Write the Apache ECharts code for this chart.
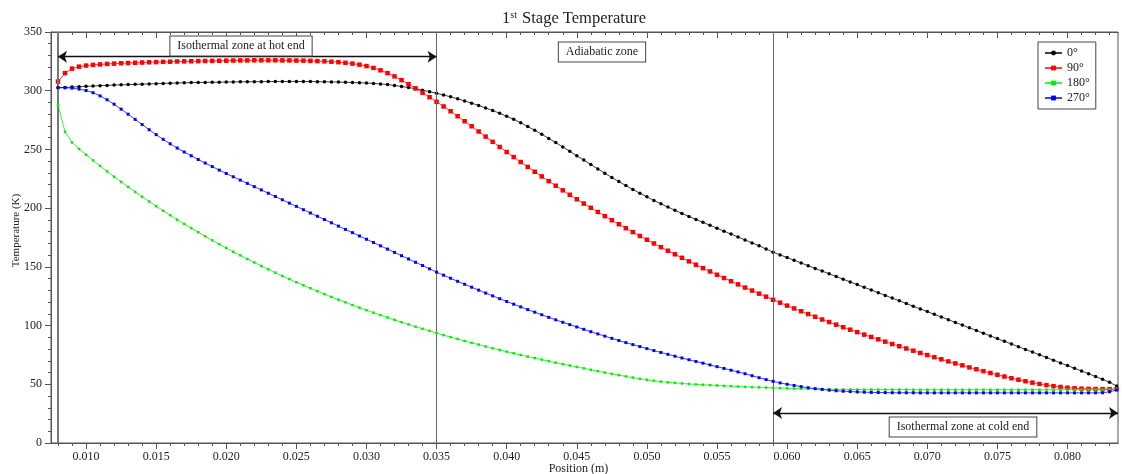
<!DOCTYPE html>
<html>
<head>
<meta charset="utf-8">
<title>1st Stage Temperature</title>
<script src="https://cdn.jsdelivr.net/npm/echarts@6/dist/echarts.min.js"></script>
<style>
    html, body { margin: 0; padding: 0; background: #fff; }
    #chart { width: 1122px; height: 474px; }
</style>
</head>
<body>
<div id="chart"></div>
<script>
// position along the regenerator (m)
const positions = [
    0.0080, 0.0085, 0.0090, 0.0095, 0.0100, 0.0105, 0.0110, 0.0115, 0.0120, 0.0125,
    0.0130, 0.0135, 0.0140, 0.0145, 0.0150, 0.0155, 0.0160, 0.0165, 0.0170, 0.0175,
    0.0180, 0.0185, 0.0190, 0.0195, 0.0200, 0.0205, 0.0210, 0.0215, 0.0220, 0.0225,
    0.0230, 0.0235, 0.0240, 0.0245, 0.0250, 0.0255, 0.0260, 0.0265, 0.0270, 0.0275,
    0.0280, 0.0285, 0.0290, 0.0295, 0.0300, 0.0305, 0.0310, 0.0315, 0.0320, 0.0325,
    0.0330, 0.0335, 0.0340, 0.0345, 0.0350, 0.0355, 0.0360, 0.0365, 0.0370, 0.0375,
    0.0380, 0.0385, 0.0390, 0.0395, 0.0400, 0.0405, 0.0410, 0.0415, 0.0420, 0.0425,
    0.0430, 0.0435, 0.0440, 0.0445, 0.0450, 0.0455, 0.0460, 0.0465, 0.0470, 0.0475,
    0.0480, 0.0485, 0.0490, 0.0495, 0.0500, 0.0505, 0.0510, 0.0515, 0.0520, 0.0525,
    0.0530, 0.0535, 0.0540, 0.0545, 0.0550, 0.0555, 0.0560, 0.0565, 0.0570, 0.0575,
    0.0580, 0.0585, 0.0590, 0.0595, 0.0600, 0.0605, 0.0610, 0.0615, 0.0620, 0.0625,
    0.0630, 0.0635, 0.0640, 0.0645, 0.0650, 0.0655, 0.0660, 0.0665, 0.0670, 0.0675,
    0.0680, 0.0685, 0.0690, 0.0695, 0.0700, 0.0705, 0.0710, 0.0715, 0.0720, 0.0725,
    0.0730, 0.0735, 0.0740, 0.0745, 0.0750, 0.0755, 0.0760, 0.0765, 0.0770, 0.0775,
    0.0780, 0.0785, 0.0790, 0.0795, 0.0800, 0.0805, 0.0810, 0.0815, 0.0820, 0.0825,
    0.0830, 0.0835,
];

// temperature (K) at 0°
const temp0 = [
    302.5, 302.8, 303.1, 303.4, 303.7, 304.0, 304.3, 304.5, 304.8, 305.0,
    305.2, 305.4, 305.6, 305.8, 306.0, 306.2, 306.4, 306.6, 306.7, 306.9,
    307.0, 307.1, 307.2, 307.3, 307.4, 307.5, 307.6, 307.6, 307.7, 307.7,
    307.8, 307.8, 307.8, 307.9, 307.9, 307.8, 307.8, 307.7, 307.6, 307.5,
    307.4, 307.2, 307.0, 306.8, 306.5, 306.2, 305.8, 305.2, 304.5, 303.6,
    302.7, 301.7, 300.5, 299.2, 297.8, 296.3, 294.8, 293.1, 291.3, 289.4,
    287.4, 285.3, 283.1, 280.8, 278.3, 275.6, 272.7, 269.6, 266.3, 262.9,
    259.4, 255.8, 252.1, 248.4, 244.6, 240.9, 237.1, 233.4, 229.7, 226.1,
    222.6, 219.2, 215.9, 212.7, 209.6, 206.6, 203.7, 200.9, 198.2, 195.5,
    192.9, 190.4, 187.9, 185.4, 182.9, 180.4, 177.9, 175.4, 172.9, 170.4,
    167.9, 165.2, 162.5, 160.2, 157.9, 155.6, 153.3, 151.0, 148.7, 146.4,
    144.1, 141.8, 139.5, 137.2, 134.9, 132.6, 130.3, 128.0, 125.7, 123.4,
    121.1, 118.8, 116.5, 114.2, 111.9, 109.6, 107.3, 105.0, 102.7, 100.4,
    98.1, 95.8, 93.5, 91.2, 88.9, 86.6, 84.3, 82.0, 79.7, 77.4,
    75.1, 72.8, 70.5, 68.2, 65.9, 63.6, 61.3, 59.0, 56.6, 54.2,
    51.7, 48.5,
];

// temperature (K) at 90°
const temp90 = [
    307.8, 315.0, 318.8, 320.5, 321.4, 322.0, 322.4, 322.8, 323.1, 323.4,
    323.6, 323.8, 324.0, 324.2, 324.4, 324.6, 324.7, 324.9, 325.0, 325.1,
    325.2, 325.3, 325.4, 325.5, 325.6, 325.7, 325.8, 325.8, 325.9, 325.9,
    325.9, 325.9, 325.8, 325.8, 325.7, 325.6, 325.4, 325.2, 325.0, 324.7,
    324.3, 323.8, 323.1, 322.2, 321.0, 319.4, 317.4, 315.0, 312.2, 309.0,
    305.6, 302.0, 298.3, 294.5, 290.6, 286.6, 282.5, 278.3, 274.0, 269.7,
    265.3, 260.9, 256.5, 252.1, 247.8, 243.5, 239.3, 235.1, 231.0, 227.0,
    223.0, 219.1, 215.2, 211.4, 207.6, 203.9, 200.3, 196.7, 193.2, 189.7,
    186.3, 182.9, 179.6, 176.3, 173.1, 169.9, 166.8, 163.7, 160.7, 157.7,
    154.7, 151.8, 148.9, 146.1, 143.3, 140.5, 137.8, 135.1, 132.4, 129.8,
    127.2, 124.6, 122.0, 119.5, 117.0, 114.6, 112.2, 109.8, 107.5, 105.2,
    103.0, 100.8, 98.6, 96.5, 94.4, 92.3, 90.3, 88.3, 86.3, 84.3,
    82.4, 80.5, 78.6, 76.7, 74.9, 73.1, 71.3, 69.5, 67.8, 66.1,
    64.4, 62.8, 61.2, 59.6, 58.1, 56.6, 55.2, 53.9, 52.6, 51.4,
    50.3, 49.3, 48.4, 47.7, 47.1, 46.6, 46.3, 46.1, 46.0, 45.9,
    45.9, 45.9,
];

// temperature (K) at 180°
const temp180 = [
    288.0, 265.0, 256.0, 250.5, 245.5, 240.7, 236.0, 231.3, 226.8, 222.4,
    218.1, 213.9, 209.7, 205.7, 201.7, 197.8, 194.0, 190.2, 186.6, 183.0,
    179.5, 176.0, 172.6, 169.3, 166.1, 162.9, 159.8, 156.7, 153.7, 150.8,
    147.9, 145.1, 142.3, 139.6, 136.9, 134.3, 131.8, 129.3, 126.8, 124.4,
    122.1, 119.8, 117.5, 115.3, 113.1, 111.0, 108.9, 106.9, 104.9, 102.9,
    101.0, 99.1, 97.3, 95.5, 93.7, 91.9, 90.2, 88.6, 86.9, 85.3,
    83.8, 82.2, 80.7, 79.2, 77.8, 76.4, 75.0, 73.6, 72.3, 71.0,
    69.7, 68.4, 67.2, 66.0, 64.8, 63.6, 62.4, 61.2, 60.0, 58.9,
    57.8, 56.7, 55.7, 54.7, 53.8, 53.0, 52.3, 51.7, 51.2, 50.7,
    50.3, 49.9, 49.6, 49.3, 49.0, 48.7, 48.4, 48.1, 47.8, 47.6,
    47.4, 47.2, 47.0, 46.8, 46.6, 46.4, 46.3, 46.1, 46.0, 45.9,
    45.8, 45.7, 45.6, 45.6, 45.5, 45.5, 45.5, 45.5, 45.5, 45.5,
    45.5, 45.5, 45.4, 45.4, 45.4, 45.4, 45.4, 45.4, 45.4, 45.4,
    45.4, 45.4, 45.4, 45.4, 45.4, 45.4, 45.4, 45.4, 45.4, 45.4,
    45.4, 45.4, 45.4, 45.4, 45.4, 45.4, 45.4, 45.4, 45.5, 45.5,
    45.6, 45.9,
];

// temperature (K) at 270°
const temp270 = [
    302.6, 302.5, 302.2, 301.4, 300.2, 298.3, 295.6, 292.3, 288.5, 284.3,
    280.0, 275.6, 271.2, 266.8, 262.6, 258.6, 254.8, 251.2, 247.8, 244.6,
    241.4, 238.4, 235.4, 232.4, 229.5, 226.7, 223.9, 221.1, 218.3, 215.5,
    212.7, 209.9, 207.1, 204.3, 201.5, 198.7, 195.9, 193.1, 190.3, 187.5,
    184.7, 181.9, 179.1, 176.3, 173.5, 170.7, 167.9, 165.1, 162.3, 159.5,
    156.7, 153.9, 151.1, 148.3, 145.5, 142.9, 140.3, 137.7, 135.2, 132.7,
    130.2, 127.7, 125.3, 122.9, 120.5, 118.2, 115.9, 113.6, 111.4, 109.2,
    107.0, 104.9, 102.8, 100.8, 98.8, 96.8, 94.8, 92.9, 91.0, 89.1,
    87.3, 85.5, 83.8, 82.1, 80.4, 78.7, 77.1, 75.5, 73.9, 72.4,
    70.9, 69.4, 68.0, 66.5, 65.0, 63.5, 62.0, 60.5, 59.0, 57.3,
    55.6, 54.0, 52.5, 51.2, 50.0, 49.0, 48.0, 47.1, 46.3, 45.6,
    45.0, 44.5, 44.1, 43.8, 43.5, 43.3, 43.1, 43.0, 42.9, 42.8,
    42.8, 42.8, 42.8, 42.7, 42.7, 42.7, 42.7, 42.7, 42.7, 42.7,
    42.7, 42.7, 42.7, 42.7, 42.7, 42.7, 42.7, 42.7, 42.7, 42.7,
    42.7, 42.7, 42.7, 42.7, 42.7, 42.7, 42.7, 42.7, 42.7, 42.8,
    43.6, 45.2,
];

const seriesNames = ["0°", "90°", "180°", "270°"];
const xTickLabels = [0.010, 0.015, 0.020, 0.025, 0.030, 0.035, 0.040, 0.045, 0.050, 0.055, 0.060, 0.065, 0.070, 0.075, 0.080];
const xMinorTicks = [
    0.008, 0.009, 0.010, 0.011, 0.012, 0.013, 0.014, 0.015, 0.016, 0.017, 0.018, 0.019, 0.020,
    0.021, 0.022, 0.023, 0.024, 0.025, 0.026, 0.027, 0.028, 0.029, 0.030, 0.031, 0.032, 0.033,
    0.034, 0.035, 0.036, 0.037, 0.038, 0.039, 0.040, 0.041, 0.042, 0.043, 0.044, 0.045, 0.046,
    0.047, 0.048, 0.049, 0.050, 0.051, 0.052, 0.053, 0.054, 0.055, 0.056, 0.057, 0.058, 0.059,
    0.060, 0.061, 0.062, 0.063, 0.064, 0.065, 0.066, 0.067, 0.068, 0.069, 0.070, 0.071, 0.072,
    0.073, 0.074, 0.075, 0.076, 0.077, 0.078, 0.079, 0.080, 0.081, 0.082, 0.083,
];
// zone boundaries (m) and arrow heights (K)
const zoneBounds = [0.008, 0.035, 0.059];
const hotArrowT = 329;
const coldArrowT = 25.5;

const X_MIN = 0.0075;
const X_MAX = 0.0836;
const SERIF = "'Liberation Serif', 'Times New Roman', serif";
const FRAME = "#555";

const chart = echarts.init(document.getElementById("chart"));

function xAxisBase(position, inside, values, len) {
    return {
        type: "value",
        position: position,
        min: X_MIN,
        max: X_MAX,
        axisLine: { show: true, onZero: false, lineStyle: { color: FRAME, width: 1 } },
        splitLine: { show: false },
        axisTick: {
            show: true,
            inside: inside,
            length: len,
            customValues: values,
            lineStyle: { color: FRAME },
        },
        axisLabel: { show: false },
    };
}

const bottomMajor = xAxisBase("bottom", false, xTickLabels, 6);
bottomMajor.axisLabel = {
    show: true,
    customValues: xTickLabels,
    margin: 8,
    color: "#222",
    fontFamily: SERIF,
    fontSize: 12,
    formatter: (v) => v.toFixed(3),
};
bottomMajor.name = "Position (m)";
bottomMajor.nameLocation = "middle";
bottomMajor.nameGap = 20;
bottomMajor.nameMoveOverlap = false;
bottomMajor.nameTextStyle = { color: "#222", fontFamily: SERIF, fontSize: 12, padding: [0, 0, 0, -12] };

const symbols = [
    { color: "#000000", symbol: "circle", size: 3.5 },
    { color: "#ff0000", symbol: "rect", size: 4.5 },
    { color: "#00ee00", symbol: "rect", size: 2.5 },
    { color: "#0000ff", symbol: "rect", size: 3 },
];
const temps = [temp0, temp90, temp180, temp270];

const series = seriesNames.map((name, k) => ({
    name: name,
    type: "line",
    xAxisIndex: 0,
    yAxisIndex: 0,
    data: positions.map((x, i) => [x, temps[k][i]]),
    symbol: symbols[k].symbol,
    symbolSize: symbols[k].size,
    showAllSymbol: true,
    lineStyle: { color: symbols[k].color, width: 1, opacity: 0.75 },
    itemStyle: { color: symbols[k].color },
    z: 3 + k,
}));

const arrowStyle = { color: "#111", width: 1.3, type: "solid" };
const boundStyle = { color: "#666", width: 1, type: "solid" };
series[0].markLine = {
    silent: true,
    animation: false,
    symbol: ["none", "none"],
    label: { show: false },
    data: [
        [
            { coord: [zoneBounds[0], 0], lineStyle: { color: "#777", width: 2, type: "solid" } },
            { coord: [zoneBounds[0], 350] },
        ],
        [{ coord: [zoneBounds[1], 0], lineStyle: boundStyle }, { coord: [zoneBounds[1], 350] }],
        [{ coord: [zoneBounds[2], 0], lineStyle: boundStyle }, { coord: [zoneBounds[2], 350] }],
        [
            { coord: [zoneBounds[0], hotArrowT], symbol: "arrow", symbolSize: 9, lineStyle: arrowStyle },
            { coord: [zoneBounds[1], hotArrowT], symbol: "arrow", symbolSize: 9 },
        ],
        [
            { coord: [zoneBounds[2], coldArrowT], symbol: "arrow", symbolSize: 9, lineStyle: arrowStyle },
            { coord: [X_MAX, coldArrowT], symbol: "arrow", symbolSize: 9 },
        ],
    ],
};

function zoneLabel(text, cx, cy) {
    return {
        type: "text",
        x: cx,
        y: cy,
        z: 100,
        style: {
            text: text,
            align: "center",
            verticalAlign: "middle",
            font: "12px " + SERIF,
            fill: "#222",
            backgroundColor: "#fff",
            borderColor: "#444",
            borderWidth: 1,
            padding: [4, 7, 3, 7],
        },
    };
}

const option = {
    animation: false,
    backgroundColor: "#fff",
    title: {
        text: "{n|1}{sup|st}{n| Stage Temperature}",
        left: 497,
        top: 5,
        textStyle: {
            fontWeight: "normal",
            rich: {
                n: { fontFamily: SERIF, fontSize: 16.5, fontWeight: "normal", color: "#222" },
                sup: { fontFamily: SERIF, fontSize: 10, fontWeight: "normal", color: "#222", verticalAlign: "top", padding: [0, 1, 7, 0] },
            },
        },
    },
    grid: {
        left: 51,
        right: 4,
        top: 32,
        bottom: 31,
        outerBoundsMode: "none",
        containLabel: false,
        show: true,
        borderColor: FRAME,
        borderWidth: 1,
        backgroundColor: "#fff",
    },
    legend: {
        data: seriesNames,
        orient: "vertical",
        left: 1038,
        top: 42,
        padding: [5, 6, 5, 6],
        itemGap: 3,
        itemWidth: 17,
        itemHeight: 6,
        borderColor: "#444",
        borderWidth: 1,
        backgroundColor: "#fff",
        textStyle: { fontFamily: SERIF, fontSize: 12, color: "#222" },
    },
    xAxis: [
        bottomMajor,
        xAxisBase("bottom", false, xMinorTicks, 3),
        xAxisBase("top", true, xTickLabels, 6),
        xAxisBase("top", true, xMinorTicks, 3),
    ],
    yAxis: {
        type: "value",
        min: 0,
        max: 350,
        interval: 50,
        name: "Temperature (K)",
        nameLocation: "middle",
        nameGap: 29,
        nameMoveOverlap: false,
        nameTextStyle: { color: "#222", fontFamily: SERIF, fontSize: 11, padding: [0, 0, 0, 14] },
        axisLine: { show: true, lineStyle: { color: FRAME, width: 1 } },
        axisTick: { show: true, length: 6, lineStyle: { color: FRAME } },
        minorTick: { show: true, splitNumber: 5, length: 3, lineStyle: { color: FRAME } },
        splitLine: { show: false },
        axisLabel: { color: "#222", fontFamily: SERIF, fontSize: 12, margin: 9 },
    },
    graphic: [
        zoneLabel("Isothermal zone at hot end", 241, 46),
        zoneLabel("Adiabatic zone", 602, 52),
        zoneLabel("Isothermal zone at cold end", 963, 427),
    ],
    series: series,
};

chart.setOption(option);
</script>
</body>
</html>
